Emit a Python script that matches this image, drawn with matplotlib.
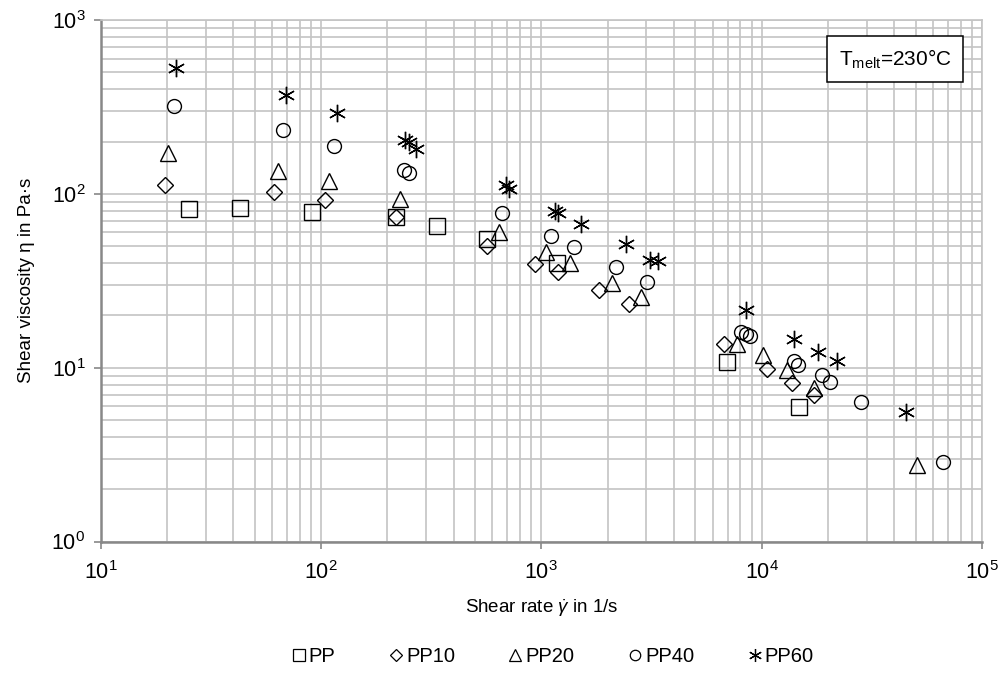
import matplotlib
matplotlib.use("Agg")
import matplotlib.pyplot as plt
from matplotlib.ticker import LogLocator, NullFormatter
from matplotlib.lines import Line2D

plt.rcParams['font.family'] = ['Liberation Sans', 'DejaVu Sans']
plt.rcParams['mathtext.fontset'] = 'custom'
plt.rcParams['mathtext.rm'] = 'Liberation Sans'
plt.rcParams['mathtext.it'] = 'Liberation Sans:italic'
plt.rcParams['mathtext.bf'] = 'Liberation Sans:bold'

# ---- data ----
pp_x = [25.2, 43.1, 90.8, 219, 335, 565, 1175, 6980, 14820]
pp_y = [81.8, 82.5, 78.9, 73.8, 65.3, 55.2, 39.8, 10.8, 5.91]

pp10_x = [19.5, 61.0, 104.6, 219, 569, 935, 1194, 1828, 2500, 6780, 10540, 13770, 17300]
pp10_y = [112, 102, 92, 73.8, 50.1, 39.4, 35.3, 27.9, 23.1, 13.7, 9.8, 8.2, 7.0]

pp20_x = [20.3, 63.8, 109, 229, 643, 1050, 1349, 2088, 2835, 7760, 10190, 13000, 17300, 50900]
pp20_y = [171, 136, 119, 93, 60.5, 46.5, 40.2, 30.5, 25.6, 13.6, 11.8, 9.7, 7.66, 2.75]

pp40_x = [21.6, 67.5, 115, 239, 252, 665, 1105, 1412, 2183, 3006, 8050, 8470, 8850,
          14060, 14580, 18750, 20440, 28240, 66800]
pp40_y = [320, 233, 188, 137, 131, 77.8, 57.4, 49.7, 38.1, 31.2, 16.0, 15.6, 15.2,
          10.9, 10.35, 9.06, 8.3, 6.37, 2.85]

pp60_x = [22.0, 69.3, 117.7, 240, 252, 270, 690, 710, 1150, 1190, 1514, 2416, 3113, 3370,
          8470, 14060, 17990, 21930, 45250]
pp60_y = [527, 370, 293, 205, 200, 182, 112, 106, 80, 78, 67, 51.2, 41.6, 41.0,
          21.4, 14.6, 12.3, 10.9, 5.58]

labels = ["PP", "PP10", "PP20", "PP40", "PP60"]

fig = plt.figure(figsize=(10.04, 6.78), dpi=100)
ax = fig.add_axes([100.7/1004, 1-541.5/678, (982-100.7)/1004, (541.5-20)/678])

star = (6, 2, 0)
series = [
    (pp_x, pp_y, 's', 11.0),
    (pp10_x, pp10_y, 'D', 8.5),
    (pp20_x, pp20_y, '^', 11.0),
    (pp40_x, pp40_y, 'o', 10.0),
    (pp60_x, pp60_y, star, 12.5),
]
for (xs, ys, m, ms), lab in zip(series, labels):
    ax.plot(xs, ys, linestyle='none', marker=m, ms=ms, mfc='none', mec='black',
            mew=1.0, label=lab)

ax.set_xscale('log')
ax.set_yscale('log')
ax.set_xlim(10, 1e5)
ax.set_ylim(1, 1e3)

ax.xaxis.set_major_locator(LogLocator(base=10, numticks=10))
ax.yaxis.set_major_locator(LogLocator(base=10, numticks=10))
ax.xaxis.set_minor_locator(LogLocator(base=10, subs=range(2, 10), numticks=20))
ax.yaxis.set_minor_locator(LogLocator(base=10, subs=range(2, 10), numticks=20))
ax.xaxis.set_minor_formatter(NullFormatter())
ax.yaxis.set_minor_formatter(NullFormatter())

ax.grid(True, which='both', color='#c4c4c4', linewidth=1.2)
ax.set_axisbelow(True)
for s in ['top', 'right']:
    ax.spines[s].set_color('#c4c4c4')
    ax.spines[s].set_linewidth(1.2)
for s in ['left', 'bottom']:
    ax.spines[s].set_color('#888888')
    ax.spines[s].set_linewidth(1.8)
ax.tick_params(which='major', direction='out', length=5, width=1.2, color='#888888',
               labelsize=15.5)
ax.tick_params(axis='x', which='major', pad=9)
ax.tick_params(axis='y', which='major', pad=6)
ax.tick_params(which='minor', length=0)

ax.set_xlabel(r"Shear rate $\dot{\gamma}$ in 1/s", fontsize=13.5, labelpad=10)
ax.set_ylabel("Shear viscosity η in Pa·s", fontsize=13.5, labelpad=12)

ax.text(0.965, 0.947, r"T$_{\mathregular{melt}}$=230°C", transform=ax.transAxes,
        ha='right', va='top', fontsize=15,
        bbox=dict(boxstyle='square,pad=0.55', facecolor='white', edgecolor='black', linewidth=1.1))

handles = [Line2D([], [], linestyle='none', marker=m, ms=ms*0.75, mfc='none', mec='black', mew=0.9)
           for (_, _, m, ms) in series]
fig.legend(handles, labels, loc='center', bbox_to_anchor=(0.55, 1-657/678), ncol=5,
           frameon=False, fontsize=14.5, handletextpad=0.1, columnspacing=2.6, handlelength=0.8)

fig.savefig("out.png", dpi=100)
